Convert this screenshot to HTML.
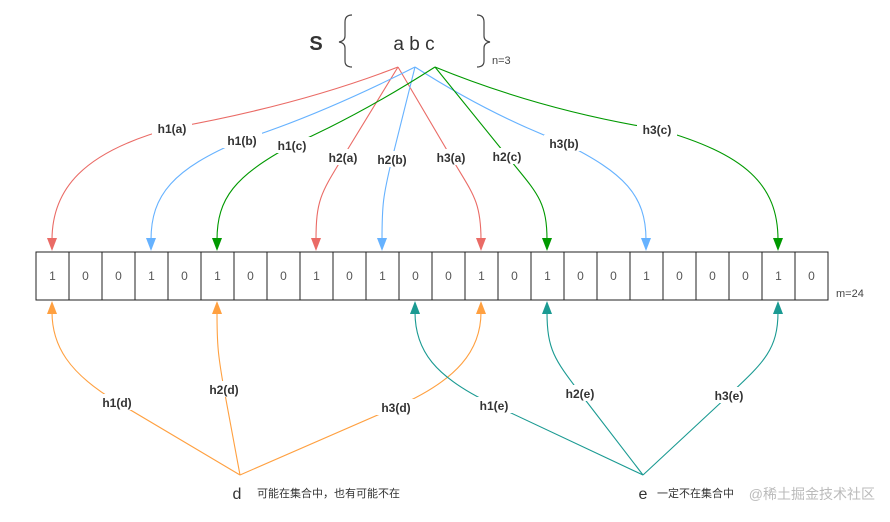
<!DOCTYPE html>
<html><head><meta charset="utf-8"><style>
body{margin:0;background:#fff;}
svg{display:block;font-family:"Liberation Sans","Noto Sans CJK SC",sans-serif;}
.l{font-size:12px;font-weight:bold;fill:#333;text-anchor:middle;}
</style></head><body>
<svg width="890" height="522" viewBox="0 0 890 522">
<rect width="890" height="522" fill="#fff"/>
<text x="316" y="50" font-size="20" font-weight="bold" fill="#333" text-anchor="middle">S</text>
<path d="M352,15 Q345,15 345,22 L345,36 Q345,41 339,42 Q345,43 345,48 L345,61 Q345,67 352,67" fill="none" stroke="#444" stroke-width="1.2"/>
<path d="M477,15 Q484,15 484,22 L484,36 Q484,41 490,42 Q484,43 484,48 L484,61 Q484,67 477,67" fill="none" stroke="#444" stroke-width="1.2"/>
<text x="414" y="50" font-size="19" fill="#333" text-anchor="middle">a b c</text>
<text x="492" y="64" font-size="11" fill="#444">n=3</text>
<g fill="none" stroke-width="1.1">
<g stroke="#EA6B66">
<path d="M398,67 Q300,105 172,128 C82,152 52,190 52,240"/>
<path d="M398,67 L343,157 C321,193 316,200 316,240"/>
<path d="M398,67 L451,157 C472,193 481,200 481,240"/>
</g>
<g stroke="#66B2FF">
<path d="M415,67 Q320,115 242,140 C173,169 151,195 151,240"/>
<path d="M415,67 L392,159 C383,196 382,205 382,240"/>
<path d="M415,67 Q490,115 564,143 C624,173 646,195 646,240"/>
</g>
<g stroke="#009900">
<path d="M435,67 Q360,115 292,145 C235,176 217,198 217,240"/>
<path d="M435,67 L507,156 C536,192 547,200 547,240"/>
<path d="M435,67 Q540,110 657,129 C746,154 778,185 778,240"/>
</g>
<g stroke="#FFA040">
<path d="M240,475 L117,402 C68,373 52,345 52,312"/>
<path d="M240,475 L224,389 C218,355 217,345 217,312"/>
<path d="M240,475 L396,407 C458,380 481,350 481,312"/>
</g>
<g stroke="#1A9A92">
<path d="M643,475 L494,405 C434,377 415,350 415,312"/>
<path d="M643,475 L580,393 C555,360 547,350 547,312"/>
<path d="M643,475 L729,395 C763,363 778,350 778,312"/>
</g>
</g>
<g>
<path d="M47,238 L57,238 L52,251Z" fill="#EA6B66"/>
<path d="M311,238 L321,238 L316,251Z" fill="#EA6B66"/>
<path d="M476,238 L486,238 L481,251Z" fill="#EA6B66"/>
<path d="M146,238 L156,238 L151,251Z" fill="#66B2FF"/>
<path d="M377,238 L387,238 L382,251Z" fill="#66B2FF"/>
<path d="M641,238 L651,238 L646,251Z" fill="#66B2FF"/>
<path d="M212,238 L222,238 L217,251Z" fill="#009900"/>
<path d="M542,238 L552,238 L547,251Z" fill="#009900"/>
<path d="M773,238 L783,238 L778,251Z" fill="#009900"/>
<path d="M47,314 L57,314 L52,301Z" fill="#FFA040"/>
<path d="M212,314 L222,314 L217,301Z" fill="#FFA040"/>
<path d="M476,314 L486,314 L481,301Z" fill="#FFA040"/>
<path d="M410,314 L420,314 L415,301Z" fill="#1A9A92"/>
<path d="M542,314 L552,314 L547,301Z" fill="#1A9A92"/>
<path d="M773,314 L783,314 L778,301Z" fill="#1A9A92"/>
</g>
<g fill="#fff">
<rect x="152" y="120" width="40" height="16"/><rect x="222" y="132" width="40" height="16"/><rect x="272" y="137" width="40" height="16"/>
<rect x="323" y="149" width="40" height="16"/><rect x="372" y="151" width="40" height="16"/><rect x="431" y="149" width="40" height="16"/>
<rect x="487" y="148" width="40" height="16"/><rect x="544" y="135" width="40" height="16"/><rect x="637" y="121" width="40" height="16"/>
<rect x="97" y="394" width="40" height="16"/><rect x="204" y="381" width="40" height="16"/><rect x="376" y="399" width="40" height="16"/>
<rect x="474" y="397" width="40" height="16"/><rect x="560" y="385" width="40" height="16"/><rect x="709" y="387" width="40" height="16"/>
</g>
<g class="l">
<text x="172" y="133" class="l">h1(a)</text><text x="242" y="145" class="l">h1(b)</text><text x="292" y="150" class="l">h1(c)</text>
<text x="343" y="162" class="l">h2(a)</text><text x="392" y="164" class="l">h2(b)</text><text x="451" y="162" class="l">h3(a)</text>
<text x="507" y="161" class="l">h2(c)</text><text x="564" y="148" class="l">h3(b)</text><text x="657" y="134" class="l">h3(c)</text>
<text x="117" y="407" class="l">h1(d)</text><text x="224" y="394" class="l">h2(d)</text><text x="396" y="412" class="l">h3(d)</text>
<text x="494" y="410" class="l">h1(e)</text><text x="580" y="398" class="l">h2(e)</text><text x="729" y="400" class="l">h3(e)</text>
</g>
<g stroke="#222" stroke-width="1" fill="#fff">
<rect x="36" y="252" width="792" height="48"/>
</g>
<g stroke="#222" stroke-width="1">
<path d="M69,252V300M102,252V300M135,252V300M168,252V300M201,252V300M234,252V300M267,252V300M300,252V300M333,252V300M366,252V300M399,252V300M432,252V300M465,252V300M498,252V300M531,252V300M564,252V300M597,252V300M630,252V300M663,252V300M696,252V300M729,252V300M762,252V300M795,252V300"/>
</g>
<g font-size="12" fill="#555" text-anchor="middle">
<text x="52.5" y="280">1</text><text x="85.5" y="280">0</text><text x="118.5" y="280">0</text><text x="151.5" y="280">1</text>
<text x="184.5" y="280">0</text><text x="217.5" y="280">1</text><text x="250.5" y="280">0</text><text x="283.5" y="280">0</text>
<text x="316.5" y="280">1</text><text x="349.5" y="280">0</text><text x="382.5" y="280">1</text><text x="415.5" y="280">0</text>
<text x="448.5" y="280">0</text><text x="481.5" y="280">1</text><text x="514.5" y="280">0</text><text x="547.5" y="280">1</text>
<text x="580.5" y="280">0</text><text x="613.5" y="280">0</text><text x="646.5" y="280">1</text><text x="679.5" y="280">0</text>
<text x="712.5" y="280">0</text><text x="745.5" y="280">0</text><text x="778.5" y="280">1</text><text x="811.5" y="280">0</text>
</g>
<text x="836" y="297" font-size="11" fill="#444">m=24</text>
<text x="237" y="499" font-size="16" fill="#333" text-anchor="middle">d</text>
<text x="257" y="497" font-size="11" fill="#333">可能在集合中，也有可能不在</text>
<text x="643" y="499" font-size="16" fill="#333" text-anchor="middle">e</text>
<text x="657" y="497" font-size="11" fill="#333">一定不在集合中</text>
<text x="875" y="499" font-size="14" fill="#bbb" text-anchor="end">@稀土掘金技术社区</text>
</svg>
</body></html>
